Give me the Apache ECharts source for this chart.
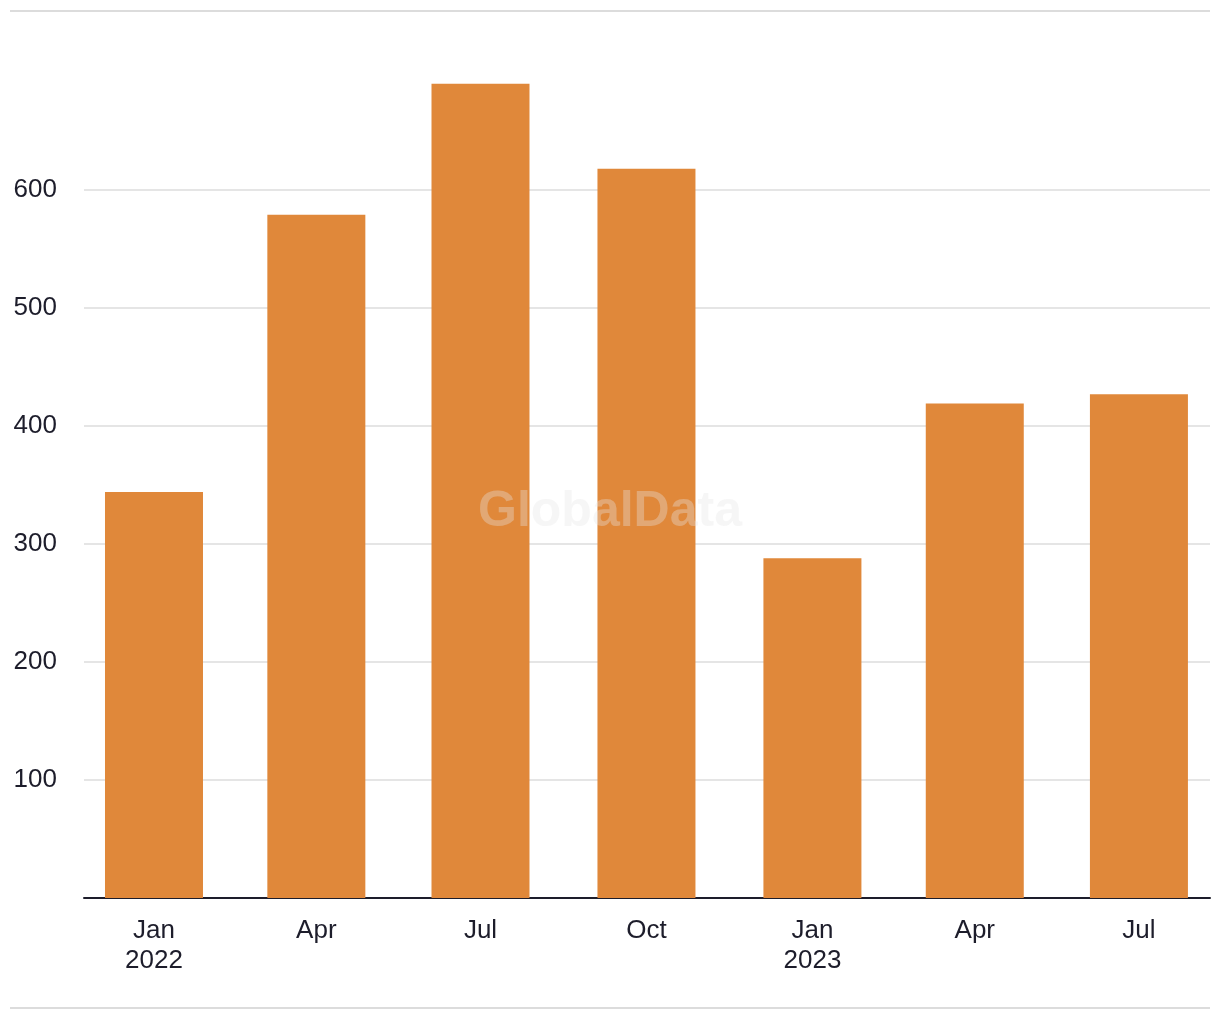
<!DOCTYPE html>
<html>
<head>
<meta charset="utf-8">
<script src="https://cdn.jsdelivr.net/npm/echarts@6/dist/echarts.min.js"></script>
<style>
html,body{margin:0;padding:0;background:#fff;}
#chart{width:1220px;height:1020px;}
</style>
</head>
<body>
<div id="chart"></div>
<script>
// Data
const dates = ['2022-01-01','2022-04-01','2022-07-01','2022-10-01','2023-01-01','2023-04-01','2023-07-01'];
const values = [344, 579, 690, 618, 288, 419, 427];
const yTicks = [0, 100, 200, 300, 400, 500, 600];
const yLabels = [100, 200, 300, 400, 500, 600];
const monthNames = ['Jan','Feb','Mar','Apr','May','Jun','Jul','Aug','Sep','Oct','Nov','Dec'];

const DAY = 86400000;
const t = s => { const p = s.split('-').map(Number); return Date.UTC(p[0], p[1]-1, p[2]); };
const xTicks = dates.map(t);
const xMin = xTicks[0] - 38.8 * DAY;
const xMax = xTicks[xTicks.length-1] + 39.4 * DAY;

const FONT = 'Liberation Sans, Arial, sans-serif';
const TEXT = '#1d1d2b';

const chart = echarts.init(document.getElementById('chart'), null, {renderer:'canvas'});
chart.setOption({
  animation: false,
  backgroundColor: '#ffffff',
  grid: {left: 84, right: 10, top: 72, bottom: 122, containLabel: false},
  xAxis: {
    type: 'value',
    min: xMin,
    max: xMax,
    axisLine: {show: true, onZero: false, lineStyle: {color: TEXT, width: 2}},
    axisTick: {show: false, customValues: xTicks},
    splitLine: {show: false},
    axisLabel: {
      customValues: xTicks,
      color: TEXT,
      fontFamily: FONT,
      fontSize: 26,
      lineHeight: 30,
      margin: 18,
      hideOverlap: false,
      formatter: function (v) {
        const d = new Date(v);
        const m = monthNames[d.getUTCMonth()];
        return d.getUTCMonth() === 0 ? m + '\n' + d.getUTCFullYear() : m;
      }
    }
  },
  yAxis: {
    type: 'value',
    min: 0,
    max: 700,
    axisLine: {show: false},
    axisTick: {show: false, customValues: yTicks},
    splitLine: {show: true, lineStyle: {color: '#dcdcdc', width: 1.5}},
    axisLabel: {
      customValues: yLabels,
      color: TEXT,
      fontFamily: FONT,
      fontSize: 26,
      margin: 27
    }
  },
  series: [{
    type: 'bar',
    data: xTicks.map((x, i) => [x, values[i]]),
    barWidth: 98,
    itemStyle: {color: '#e0883a'},
    silent: true
  }],
  graphic: [
    {type: 'line', shape: {x1: 10, y1: 11, x2: 1210, y2: 11}, style: {stroke: '#dcdcdc', lineWidth: 2}},
    {type: 'line', shape: {x1: 10, y1: 1008, x2: 1210, y2: 1008}, style: {stroke: '#dcdcdc', lineWidth: 2}},
    {type: 'text', x: 610, y: 512, z: 100,
      style: {text: 'GlobalData', font: 'bold 50px Liberation Sans, Arial, sans-serif',
        fill: 'rgba(228,228,228,0.35)', align: 'center', verticalAlign: 'middle'}}
  ]
});
</script>
</body>
</html>
